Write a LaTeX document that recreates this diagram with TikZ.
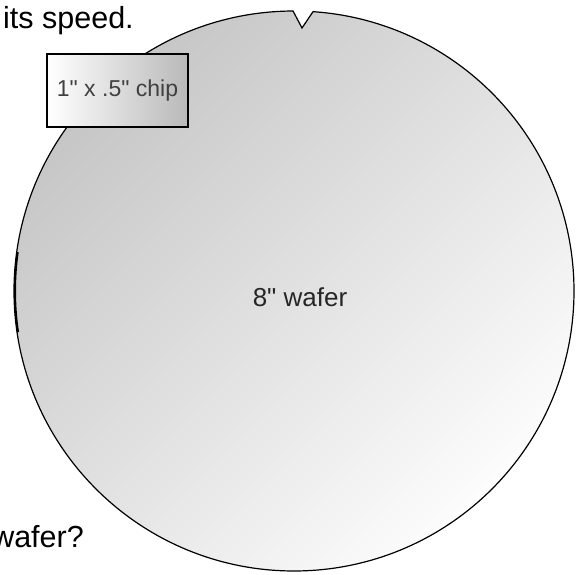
\documentclass[tikz,border=0pt]{standalone}
\usepackage{fontspec}
\setmainfont{Liberation Sans}
\usepackage{tikz}

\begin{document}
\begin{tikzpicture}[x=1pt,y=1pt,
  caption/.style={inner sep=0pt,text=black,font=\fontsize{30.5}{36}\selectfont},
  lbl/.style={inner sep=0pt,text=black!85,font=\fontsize{26}{31}\selectfont},
  chipbox/.style={draw=black,line width=1.3pt,left color=white,right color=gray!55,
    minimum width=141,minimum height=73,text=black!75,font=\fontsize{23}{27}\selectfont}]
  \useasboundingbox (0,0) rectangle (576,574);
  \fill[white] (0,0) rectangle (576,574);

  % wafer with its notch
  \shade[draw=black,line width=1.2pt,top color=gray!45,bottom color=gray!2,shading angle=45]
    (294,283) ++(90.2:280) arc[start angle=90.2,end angle=446.1,radius=280]
    -- (302,546) -- cycle;
  \draw[line width=2pt] (294,283) ++(172:279) arc[start angle=172,end angle=188.5,radius=279];

  \node[lbl,anchor=base] (wafer) at (300,267) {8\textquotedbl{} wafer};
  \node[chipbox] (chip) at (117.5,483.5) {1\textquotedbl{} x .5\textquotedbl{} chip};

  \node[caption,anchor=base west] (speed) at (3,545) {its speed.};
  \node[caption,anchor=base east] (question) at (84,27) {wafer?};
\end{tikzpicture}
\end{document}
